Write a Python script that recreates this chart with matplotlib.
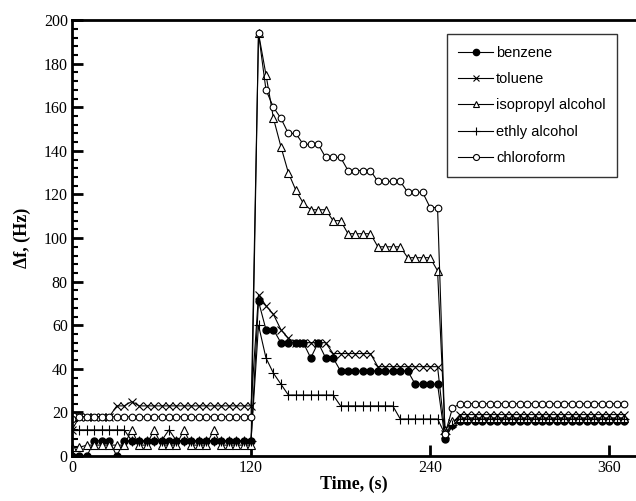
import matplotlib
matplotlib.use('Agg')
import matplotlib.pyplot as plt
from matplotlib.ticker import MultipleLocator

# sampling times (s)
time_s = [0, 5, 10, 15, 20, 25, 30, 35, 40, 45, 50, 55, 60, 65, 70, 75, 80, 85, 90, 95,
          100, 105, 110, 115, 120, 125, 130, 135, 140, 145, 150, 155, 160, 165, 170, 175,
          180, 185, 190, 195, 200, 205, 210, 215, 220, 225, 230, 235, 240, 245, 250, 255,
          260, 265, 270, 275, 280, 285, 290, 295, 300, 305, 310, 315, 320, 325, 330, 335,
          340, 345, 350, 355, 360, 365, 370]

# frequency shift (Hz)
benzene = [0, 0, 0, 7, 7, 7, 0, 7, 7, 7, 7, 7, 7, 7, 7, 7, 7, 7, 7, 7,
           7, 7, 7, 7, 7, 71, 58, 58, 52, 52, 52, 52, 45, 52, 45, 45,
           39, 39, 39, 39, 39, 39, 39, 39, 39, 39, 33, 33, 33, 33, 8, 14,
           16, 16, 16, 16, 16, 16, 16, 16, 16, 16, 16, 16, 16, 16, 16, 16,
           16, 16, 16, 16, 16, 16, 16]
toluene = [12, 18, 18, 18, 18, 18, 23, 23, 25, 23, 23, 23, 23, 23, 23, 23, 23, 23, 23, 23,
           23, 23, 23, 23, 23, 74, 69, 65, 58, 54, 52, 52, 52, 52, 52, 47,
           47, 47, 47, 47, 47, 41, 41, 41, 41, 41, 41, 41, 41, 41, 10, 15,
           19, 19, 19, 19, 19, 19, 19, 19, 19, 19, 19, 19, 19, 19, 19, 19,
           19, 19, 19, 19, 19, 19, 19]
isopropyl = [4, 4, 5, 5, 5, 5, 5, 5, 12, 5, 5, 12, 5, 5, 5, 12, 5, 5, 5, 12,
             5, 5, 5, 5, 5, 194, 175, 155, 142, 130, 122, 116, 113, 113, 113, 108,
             108, 102, 102, 102, 102, 96, 96, 96, 96, 91, 91, 91, 91, 85, 12, 16,
             17.5, 17.5, 17.5, 17.5, 17.5, 17.5, 17.5, 17.5, 17.5, 17.5, 17.5, 17.5, 17.5, 17.5, 17.5, 17.5,
             17.5, 17.5, 17.5, 17.5, 17.5, 17.5, 17.5]
ethyl = [12, 12, 12, 12, 12, 12, 12, 12, 7, 7, 7, 7, 7, 12, 7, 7, 7, 7, 7, 7,
         7, 7, 7, 7, 7, 60, 45, 38, 33, 28, 28, 28, 28, 28, 28, 28,
         23, 23, 23, 23, 23, 23, 23, 23, 17, 17, 17, 17, 17, 17, 10, 14,
         17, 17, 17, 17, 17, 17, 17, 17, 17, 17, 17, 17, 17, 17, 17, 17,
         17, 17, 17, 17, 17, 17, 17]
chloroform = [17, 18, 18, 18, 18, 18, 18, 18, 18, 18, 18, 18, 18, 18, 18, 18, 18, 18, 18, 18,
              18, 18, 18, 18, 18, 194, 168, 160, 155, 148, 148, 143, 143, 143, 137, 137,
              137, 131, 131, 131, 131, 126, 126, 126, 126, 121, 121, 121, 114, 114, 10, 22,
              24, 24, 24, 24, 24, 24, 24, 24, 24, 24, 24, 24, 24, 24, 24, 24,
              24, 24, 24, 24, 24, 24, 24]

fig = plt.figure(figsize=(6.36, 5.01), dpi=100)
ax = fig.add_axes([0.1132, 0.0898, 0.8868, 0.870])

lw = 0.8
ax.plot(time_s, benzene, '-', color='black', lw=lw, marker='o', ms=5,
        mfc='black', mec='black', label='benzene')
ax.plot(time_s, toluene, '-', color='black', lw=lw, marker='x', ms=5.5,
        mew=0.8, label='toluene')
ax.plot(time_s, isopropyl, '-', color='black', lw=lw, marker='^', ms=5.5,
        mfc='white', mec='black', mew=0.8, label='isopropyl alcohol')
ax.plot(time_s, ethyl, '-', color='black', lw=lw, marker='+', ms=7,
        mew=0.8, label='ethly alcohol')
ax.plot(time_s, chloroform, '-', color='black', lw=lw, marker='o', ms=4.8,
        mfc='white', mec='black', mew=0.8, label='chloroform')

ax.set_xlim(0, 378)
ax.set_ylim(0, 200)
ax.set_xticks([0, 120, 240, 360])
ax.yaxis.set_major_locator(MultipleLocator(20))
ax.yaxis.set_minor_locator(MultipleLocator(4))

ax.spines['right'].set_visible(False)
for side in ['left', 'bottom', 'top']:
    ax.spines[side].set_linewidth(2)

ax.tick_params(axis='both', which='major', direction='in', length=8, width=2,
               labelsize=11.5, pad=3)
ax.tick_params(axis='y', which='minor', direction='in', length=4, width=1.5)
for lab in ax.get_xticklabels() + ax.get_yticklabels():
    lab.set_fontfamily('Liberation Serif')

ax.set_xlabel('Time, (s)', fontfamily='Liberation Serif', fontweight='bold',
              fontsize=13, labelpad=0)
ax.set_ylabel('\u0394f, (Hz)', fontfamily='Liberation Serif', fontweight='bold',
              fontsize=13, labelpad=9)

leg = ax.legend(loc='upper right', bbox_to_anchor=(0.98, 0.985),
                prop={'family': 'Liberation Sans', 'size': 10.5},
                frameon=True, fancybox=False, edgecolor='black',
                handlelength=2.4, handletextpad=0.2, labelspacing=0.85,
                borderpad=0.8, markerscale=0.9)
leg.get_frame().set_linewidth(1.0)

fig.savefig('out.png', dpi=100)
